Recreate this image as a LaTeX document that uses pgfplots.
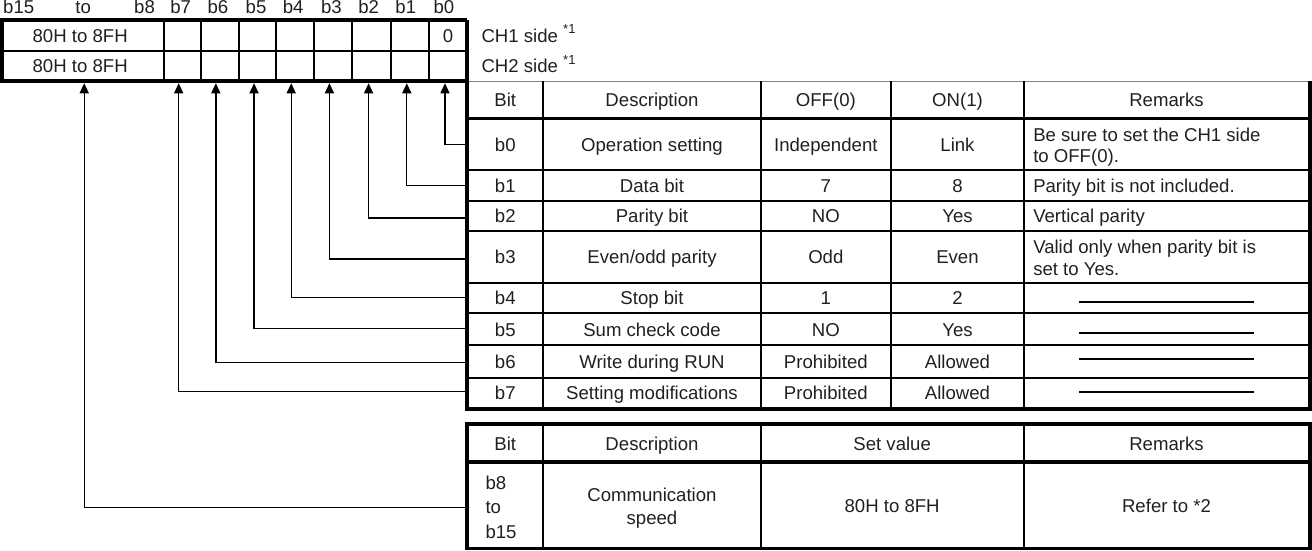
\documentclass[border=0pt]{standalone}
\usepackage{pgfplots}
\pgfplotsset{compat=1.18}
\usepackage{fontspec}
\setmainfont{Liberation Sans}
\usetikzlibrary{arrows.meta}
\definecolor{txt}{RGB}{35,31,32}
\newcommand{\T}[3]{\node[anchor=base,inner sep=0pt,text=txt] at (axis cs:#1,#2+6.6) {#3};}
\newcommand{\TL}[3]{\node[anchor=base west,inner sep=0pt,text=txt] at (axis cs:#1,#2+6.6) {#3};}
\begin{document}
\begin{tikzpicture}
\fontsize{9.25}{10.5}\selectfont
\begin{axis}[width=656pt,height=279.5pt,scale only axis,
  xmin=0,xmax=1312,ymin=0,ymax=559,y dir=reverse,hide axis,clip=false]
\tikzset{thk/.style={line width=1.8pt,black},mid/.style={line width=1pt,black},
  ldr/.style={line width=0.65pt,black,-{Triangle[width=4.5pt,length=5pt]}}}
% leader lines
\addplot[ldr,mark=none] coordinates {(469,155) (447,155) (447,94)};
\addplot[ldr,mark=none] coordinates {(469,196) (409,196) (409,94)};
\addplot[ldr,mark=none] coordinates {(469,228) (371,228) (371,94)};
\addplot[ldr,mark=none] coordinates {(469,269) (332,269) (332,94)};
\addplot[ldr,mark=none] coordinates {(469,307) (294,307) (294,94)};
\addplot[ldr,mark=none] coordinates {(469,338) (257,338) (257,94)};
\addplot[ldr,mark=none] coordinates {(469,372) (219,372) (219,94)};
\addplot[ldr,mark=none] coordinates {(469,401) (182,401) (182,94)};
\addplot[ldr,mark=none] coordinates {(469,516) (88,516) (88,94)};
% register box
\pgfplotsinvokeforeach{167,204,242,279,317,354,393,431}{\draw[mid] (axis cs:#1,31) -- (axis cs:#1,92);}
\draw[mid] (axis cs:6,62) -- (axis cs:469,62);
\draw[thk] (axis cs:469,31) -- (axis cs:6,31) -- (axis cs:6,92) -- (axis cs:469,92);
% top table
\draw[line width=0.5pt,gray] (axis cs:469,92) -- (axis cs:1308,92);
\pgfplotsinvokeforeach{180,211,241,293,323,355,387}{\draw[mid] (axis cs:469,#1) -- (axis cs:1308,#1);}
\pgfplotsinvokeforeach{545,761,891,1023}{\draw[mid] (axis cs:#1,92) -- (axis cs:#1,418);}
\draw[thk] (axis cs:469,129) -- (axis cs:1308,129);
\draw[thk] (axis cs:469,31) -- (axis cs:469,418) -- (axis cs:1308,418) -- (axis cs:1308,92);
% remarks dashes
\pgfplotsinvokeforeach{312,343,368,401}{\draw[line width=1pt,black] (axis cs:1078,#1) -- (axis cs:1252,#1);}
% bottom table
\pgfplotsinvokeforeach{545,761,1023}{\draw[mid] (axis cs:#1,433) -- (axis cs:#1,557);}
\draw[thk] (axis cs:469,471) -- (axis cs:1308,471);
\draw[thk] (axis cs:469,433) rectangle (axis cs:1308,557);
% header labels
\TL{7}{18}{b15}
\T{87}{18}{to}
\T{148}{18}{b8}
\T{184}{18}{b7}
\T{221}{18}{b6}
\T{259}{18}{b5}
\T{296}{18}{b4}
\T{334}{18}{b3}
\T{371}{18}{b2}
\T{408}{18}{b1}
\T{446}{18}{b0}
\T{84}{46.5}{80H to 8FH}
\T{84}{77}{80H to 8FH}
\T{450}{46.5}{0}
\TL{483}{46.5}{CH1 side \raisebox{0.45em}{\fontsize{6.5}{7}\selectfont *1}}
\TL{483}{77}{CH2 side \raisebox{0.45em}{\fontsize{6.5}{7}\selectfont *1}}
% top table text
\T{507}{111}{Bit}
\T{653}{111}{Description}
\T{826}{111}{OFF(0)}
\T{957}{111}{ON(1)}
\T{1165}{111}{Remarks}
\T{507}{155}{b0}\T{653}{155}{Operation setting}\T{826}{155}{Independent}\T{957}{155}{Link}
\TL{1032}{145}{Be sure to set the CH1 side}
\TL{1032}{166}{to OFF(0).}
\T{507}{196}{b1}\T{653}{196}{Data bit}\T{826}{196}{7}\T{957}{196}{8}
\TL{1032}{196}{Parity bit is not included.}
\T{507}{226}{b2}\T{653}{226}{Parity bit}\T{826}{226}{NO}\T{957}{226}{Yes}
\TL{1032}{226}{Vertical parity}
\T{507}{267}{b3}\T{653}{267}{Even/odd parity}\T{826}{267}{Odd}\T{957}{267}{Even}
\TL{1032}{257}{Valid only when parity bit is}
\TL{1032}{279}{set to Yes.}
\T{507}{308}{b4}\T{653}{308}{Stop bit}\T{826}{308}{1}\T{957}{308}{2}
\T{507}{339}{b5}\T{653}{339}{Sum check code}\T{826}{339}{NO}\T{957}{339}{Yes}
\T{507}{371}{b6}\T{653}{371}{Write during RUN}\T{826}{371}{Prohibited}\T{957}{371}{Allowed}
\T{507}{402}{b7}\T{653}{402}{Setting modifications}\T{826}{402}{Prohibited}\T{957}{402}{Allowed}
% bottom table text
\T{507}{452.5}{Bit}
\T{653}{452.5}{Description}
\T{892}{452.5}{Set value}
\T{1165}{452.5}{Remarks}
\TL{487}{492}{b8}
\TL{487}{516}{to}
\TL{487}{540}{b15}
\T{653}{504}{Communication}
\T{653}{527}{speed}
\T{892}{515}{80H to 8FH}
\T{1165}{515}{Refer to *2}
\end{axis}
\end{tikzpicture}
\end{document}
